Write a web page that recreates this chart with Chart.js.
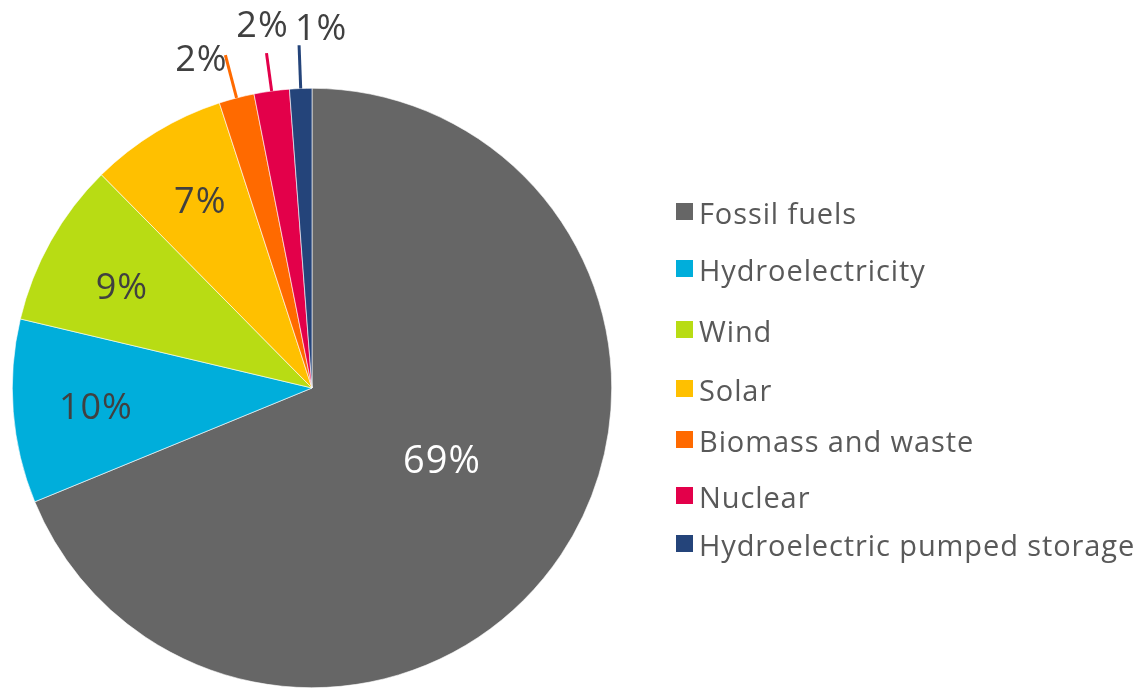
<!DOCTYPE html>
<html>
<head>
<meta charset="utf-8">
<script src="https://cdn.jsdelivr.net/npm/chart.js@4"></script>
<style>
  html, body { margin: 0; padding: 0; background: #fff; }
  #wrap { width: 1138px; height: 688px; position: relative; }
</style>
</head>
<body>
<div id="wrap"><canvas id="myChart" width="1138" height="688"></canvas></div>
<script>
// data
const CATEGORIES = ["Fossil fuels", "Hydroelectricity", "Wind", "Solar", "Biomass and waste", "Nuclear", "Hydroelectric pumped storage"];
const SHARES = [68.8, 9.9, 8.9, 7.4, 1.9, 1.9, 1.2];
const SHARE_LABELS = ["69%", "10%", "9%", "7%", "2%", "2%", "1%"];

// colours
const COLORS = ["#666666", "#00aedb", "#b8dc14", "#ffc000", "#ff6a00", "#e3004a", "#24447a"];
const FONT = "'Open Sans', Lato, sans-serif";

// label placement: inside (radius fraction + nudge) or outside (leader line + text offset)
const LABEL_STYLE = [
    { inside: 0.49, nx: 8, ny: -8, color: "#ffffff", size: 38 },
    { inside: 0.72, nx: -1, ny: 4, color: "#404040", size: 36 },
    { inside: 0.72, nx: -2, ny: 6, color: "#404040", size: 36 },
    { inside: 0.73, nx: 2, ny: 2, color: "#404040", size: 36 },
    { lineTo: 344, dx: -24, dy: 6, color: "#404040", size: 36 },
    { lineTo: 338, dx: -4, dy: -26, color: "#404040", size: 36 },
    { lineTo: 343, dx: 22, dy: -15, color: "#404040", size: 36 },
];
// legend baselines (px)
const LEGEND_Y = [224, 281, 342, 401, 452, 508, 556];

const sliceLabels = {
    id: "sliceLabels",
    afterDatasetsDraw(chart) {
        const ctx = chart.ctx;
        const arcs = chart.getDatasetMeta(0).data;
        arcs.forEach((arc, i) => {
            const st = LABEL_STYLE[i];
            const mid = (arc.startAngle + arc.endAngle) / 2;
            const cx = arc.x, cy = arc.y, r = arc.outerRadius;
            ctx.save();
            ctx.font = `${st.size}px ${FONT}`;
            ctx.letterSpacing = "1px";
            ctx.fillStyle = st.color;
            ctx.textAlign = "center";
            ctx.textBaseline = "middle";
            if (st.inside) {
                ctx.fillText(SHARE_LABELS[i], cx + Math.cos(mid) * r * st.inside + st.nx, cy + Math.sin(mid) * r * st.inside + st.ny);
            } else {
                const x1 = cx + Math.cos(mid) * r, y1 = cy + Math.sin(mid) * r;
                const x2 = cx + Math.cos(mid) * st.lineTo, y2 = cy + Math.sin(mid) * st.lineTo;
                ctx.strokeStyle = COLORS[i];
                ctx.lineWidth = 3;
                ctx.beginPath();
                ctx.moveTo(x1, y1);
                ctx.lineTo(x2, y2);
                ctx.stroke();
                ctx.fillText(SHARE_LABELS[i], x2 + st.dx, y2 + st.dy);
            }
            ctx.restore();
        });
    },
};

const sideLegend = {
    id: "sideLegend",
    afterDraw(chart) {
        const ctx = chart.ctx;
        ctx.save();
        ctx.font = `29px ${FONT}`;
        ctx.letterSpacing = "0.9px";
        ctx.textBaseline = "alphabetic";
        chart.data.labels.forEach((lab, i) => {
            const y = LEGEND_Y[i];
            ctx.fillStyle = COLORS[i];
            ctx.fillRect(676, y - 21, 17, 17);
            ctx.fillStyle = "#595959";
            ctx.fillText(lab, 699, y);
        });
        ctx.restore();
    },
};

window.onload = function () {
    const ctx = document.getElementById("myChart").getContext("2d");
    new Chart(ctx, {
        type: "pie",
        data: {
            labels: CATEGORIES,
            datasets: [{
                data: SHARES,
                backgroundColor: COLORS,
                borderColor: "#ffffff",
                borderWidth: 0.6,
            }],
        },
        options: {
            responsive: false,
            animation: false,
            layout: { padding: { top: 88, bottom: 0, left: 12, right: 526 } },
            plugins: {
                legend: { display: false },
                tooltip: { enabled: false },
            },
        },
        plugins: [sliceLabels, sideLegend],
    });
};
</script>
</body>
</html>
